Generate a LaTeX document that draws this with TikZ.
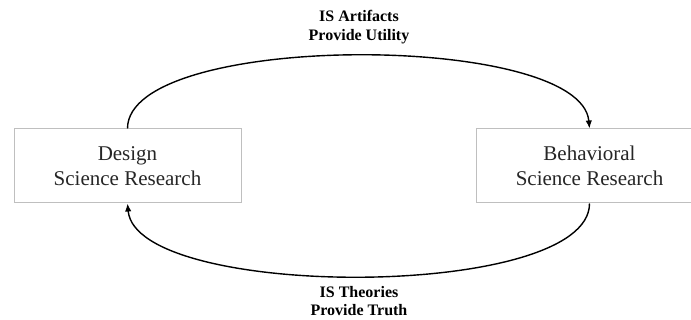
\documentclass[tikz,border=0pt]{standalone}
\usepackage{fontspec}
\setmainfont{Liberation Serif}
\usetikzlibrary{arrows.meta}
\begin{document}
\begin{tikzpicture}[x=1pt,y=-1pt,
  box/.style={draw=black!25,line width=1pt,minimum width=227pt,minimum height=74pt,
    align=center,inner sep=0pt,font=\fontsize{21}{25}\selectfont,text=black!85},
  lbl/.style={align=center,font=\fontsize{16}{18.5}\selectfont\bfseries},
  arc/.style={line width=1.4pt,-{Latex[length=8pt,width=6.5pt]}}]
\useasboundingbox (0,0) rectangle (691,320);
\clip (0,0) rectangle (691,320);
\node[box] (L) at (127.5,166) {Design\\Science Research};
\node[box] (R) at (589.5,166) {Behavioral\\Science Research};
\draw[arc] (L.north) to[out=90,in=95,looseness=0.54] (R.north);
\draw[arc] (R.south) to[out=-90,in=-85,looseness=0.54] (L.south);
\node[lbl] (t) at (359,27) {IS Artifacts\\Provide Utility};
\node[lbl] (b) at (359,301) {IS Theories\\Provide Truth};
\end{tikzpicture}
\end{document}
